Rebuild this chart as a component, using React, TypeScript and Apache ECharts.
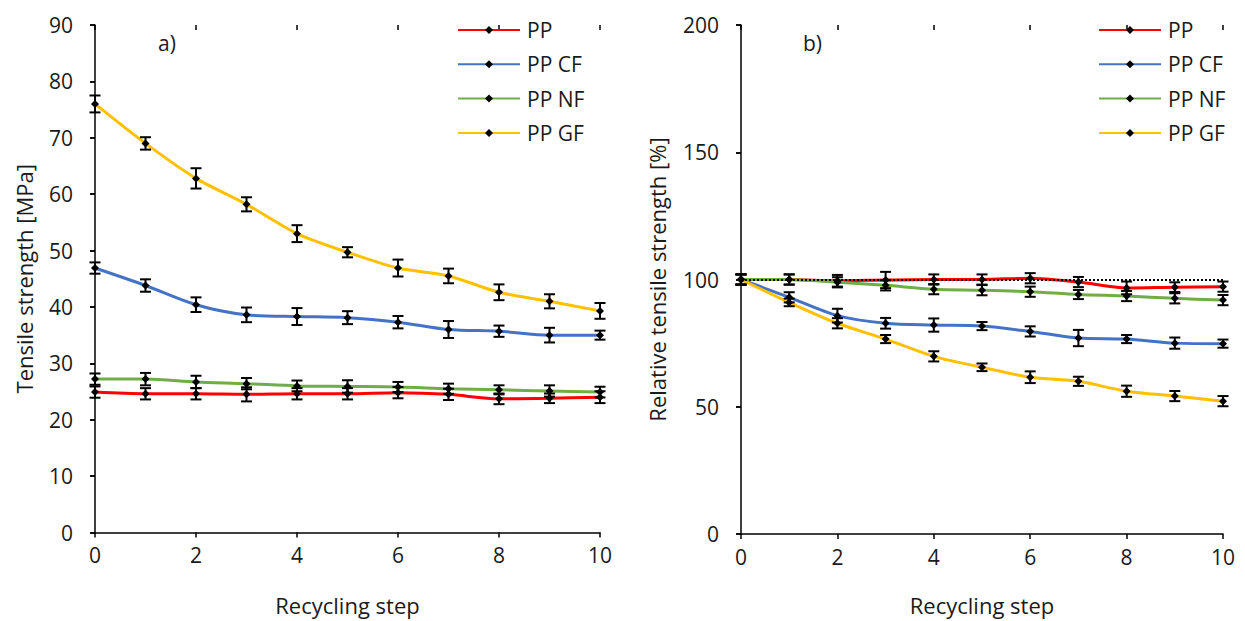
import React, { useEffect, useRef } from "react";
import * as echarts from "echarts";

const steps = [0, 1, 2, 3, 4, 5, 6, 7, 8, 9, 10];
const seriesNames = ["PP", "PP CF", "PP NF", "PP GF"];
const colors = ["#ff0000", "#4472c4", "#70ad47", "#ffc000"];

// a) Tensile strength [MPa]
const ppMPa = [24.9, 24.6, 24.6, 24.5, 24.6, 24.6, 24.8, 24.5, 23.7, 23.8, 24.0];
const ppMPaErr = [1.0, 1.0, 1.0, 1.25, 1.0, 1.0, 1.0, 1.0, 0.95, 0.85, 1.05];
const cfMPa = [46.9, 43.8, 40.4, 38.6, 38.3, 38.1, 37.3, 36.0, 35.7, 35.0, 35.0];
const cfMPaErr = [1.0, 1.1, 1.3, 1.3, 1.5, 1.15, 1.1, 1.5, 1.0, 1.3, 0.8];
const nfMPa = [27.2, 27.2, 26.7, 26.4, 26.0, 25.9, 25.8, 25.5, 25.3, 25.1, 24.9];
const nfMPaErr = [1.0, 1.1, 1.1, 1.0, 0.95, 1.1, 0.9, 0.9, 0.8, 1.0, 0.95];
const gfMPa = [76.0, 69.0, 62.8, 58.2, 53.0, 49.7, 46.9, 45.5, 42.6, 41.0, 39.3];
const gfMPaErr = [1.5, 1.1, 1.8, 1.25, 1.5, 0.9, 1.5, 1.3, 1.4, 1.25, 1.4];

// b) Relative tensile strength [%]
const ppRel = [100, 100, 99.5, 99.8, 100, 100, 100.5, 99.0, 96.7, 97.0, 97.2];
const ppRelErr = [2.0, 2.0, 2.3, 3.2, 2.0, 2.0, 2.0, 2.0, 2.5, 1.9, 2.0];
const cfRel = [100, 93.0, 85.8, 82.8, 82.1, 81.7, 79.6, 77.0, 76.6, 75.0, 74.8];
const cfRelErr = [2.0, 2.0, 2.7, 2.1, 2.6, 1.6, 2.0, 3.2, 1.6, 2.2, 1.6];
const nfRel = [100, 100, 98.9, 97.7, 96.2, 95.8, 95.2, 94.1, 93.5, 92.6, 91.9];
const nfRelErr = [2.0, 2.0, 2.0, 2.0, 2.0, 2.0, 2.0, 1.8, 2.0, 2.0, 2.0];
const gfRel = [100, 91.0, 82.8, 76.6, 69.8, 65.5, 61.6, 60.0, 56.1, 54.2, 52.2];
const gfRelErr = [2.0, 1.5, 2.0, 1.6, 2.0, 1.5, 2.3, 1.8, 2.2, 2.0, 2.0];

const leftSets = [
  [ppMPa, ppMPaErr],
  [cfMPa, cfMPaErr],
  [nfMPa, nfMPaErr],
  [gfMPa, gfMPaErr],
];
const rightSets = [
  [ppRel, ppRelErr],
  [cfRel, cfRelErr],
  [nfRel, nfRelErr],
  [gfRel, gfRelErr],
];

const FONT = "Open Sans";

export default function App() {
  const ref = useRef<HTMLDivElement>(null);

  useEffect(() => {
    if (!ref.current) return;
    const chart = echarts.init(ref.current, undefined, { renderer: "svg" });

    const axisText = { color: "#1a1a1a", fontFamily: FONT, fontSize: 21 };

    const mkX = (gridIndex: number, main: boolean, nameGap: number) => ({
      type: "value",
      gridIndex,
      min: 0,
      max: 10,
      interval: 2,
      name: main ? "Recycling step" : "",
      nameLocation: "middle",
      nameGap,
      nameTextStyle: { ...axisText, fontSize: 22 },
      axisLine: { show: main, onZero: false, lineStyle: { color: "#000", width: 1.5 } },
      axisTick: { show: true, inside: !main, length: 5, lineStyle: { color: "#000", width: 1.5 } },
      axisLabel: { show: main, margin: 12, ...axisText },
      splitLine: { show: false },
    });

    const mkY = (
      gridIndex: number,
      main: boolean,
      max: number,
      interval: number,
      name: string,
      nameGap: number
    ) => ({
      type: "value",
      gridIndex,
      min: 0,
      max,
      interval,
      name: main ? name : "",
      nameLocation: "middle",
      nameGap,
      nameTextStyle: { ...axisText, fontSize: 22 },
      axisLine: { show: main, lineStyle: { color: "#000", width: 1.5 } },
      axisTick: { show: true, inside: !main, length: 5, lineStyle: { color: "#000", width: 1.5 } },
      axisLabel: { show: main, margin: 22, ...axisText },
      splitLine: { show: false },
    });

    const errorRender = (params: any, api: any) => {
      const x = api.value(0);
      const y = api.value(1);
      const e = api.value(2);
      const top = api.coord([x, y + e]);
      const bot = api.coord([x, y - e]);
      const w = 5.5;
      const st = { stroke: "#000", lineWidth: 2 };
      return {
        type: "group",
        children: [
          { type: "line", shape: { x1: top[0], y1: top[1], x2: bot[0], y2: bot[1] }, style: st },
          { type: "line", shape: { x1: top[0] - w, y1: top[1], x2: top[0] + w, y2: top[1] }, style: st },
          { type: "line", shape: { x1: bot[0] - w, y1: bot[1], x2: bot[0] + w, y2: bot[1] }, style: st },
        ],
      };
    };

    const series: any[] = [];
    const addSets = (sets: any[], axisIndex: number) => {
      sets.forEach(([vals, errs]: any, i: number) => {
        const line: any = {
          type: "line",
          name: seriesNames[i],
          xAxisIndex: axisIndex,
          yAxisIndex: axisIndex,
          data: steps.map((s, k) => [s, vals[k]]),
          smooth: 0.3,
          symbol: "diamond",
          symbolSize: 8,
          itemStyle: { color: "#000" },
          lineStyle: { color: colors[i], width: 3 },
          z: 2,
        };
        if (axisIndex === 1 && i === 0) {
          line.markLine = {
            silent: true,
            symbol: "none",
            label: { show: false },
            lineStyle: { color: "#000", type: "dotted", width: 2 },
            data: [[{ coord: [0, 100] }, { coord: [10, 100] }]],
            z: 5,
          };
        }
        series.push(line);
        series.push({
          type: "custom",
          xAxisIndex: axisIndex,
          yAxisIndex: axisIndex,
          data: steps.map((s, k) => [s, vals[k], errs[k]]),
          encode: { x: 0, y: 1 },
          renderItem: errorRender,
          z: 4,
          silent: true,
        });
      });
    };
    addSets(leftSets, 0);
    addSets(rightSets, 1);

    const legendBase = {
      orient: "vertical",
      itemWidth: 62,
      itemHeight: 10,
      itemGap: 10.3,
      data: seriesNames,
      textStyle: { color: "#1a1a1a", fontFamily: FONT, fontSize: 21, lineHeight: 24, padding: [0, 0, 0, 2] },
      selectedMode: false,
      padding: 0,
    };

    chart.setOption({
      animation: false,
      backgroundColor: "#fff",
      textStyle: { fontFamily: FONT },
      grid: [
        { left: 95, right: 645, top: 25, bottom: 88.5 },
        { left: 741, right: 22, top: 25, bottom: 85 },
      ],
      xAxis: [mkX(0, true, 61), mkX(1, true, 60), mkX(0, false, 0), mkX(1, false, 0)],
      yAxis: [
        mkY(0, true, 90, 10, "Tensile strength [MPa]", 60),
        mkY(1, true, 200, 50, "Relative tensile strength [%]", 73),
        mkY(0, false, 90, 10, "", 0),
        mkY(1, false, 200, 50, "", 0),
      ],
      legend: [
        { ...legendBase, left: 457, top: 18 },
        { ...legendBase, left: 1098, top: 18 },
      ],
      graphic: [
        { type: "text", left: 158, top: 32, style: { text: "a)", font: `21px "${FONT}"`, fill: "#1a1a1a" } },
        { type: "text", left: 803, top: 32, style: { text: "b)", font: `21px "${FONT}"`, fill: "#1a1a1a" } },
      ],
      series,
    });

    return () => chart.dispose();
  }, []);

  return (
    <div
      ref={ref}
      style={{ position: "fixed", left: 0, top: 0, width: 1245, height: 621, background: "#fff" }}
    />
  );
}
